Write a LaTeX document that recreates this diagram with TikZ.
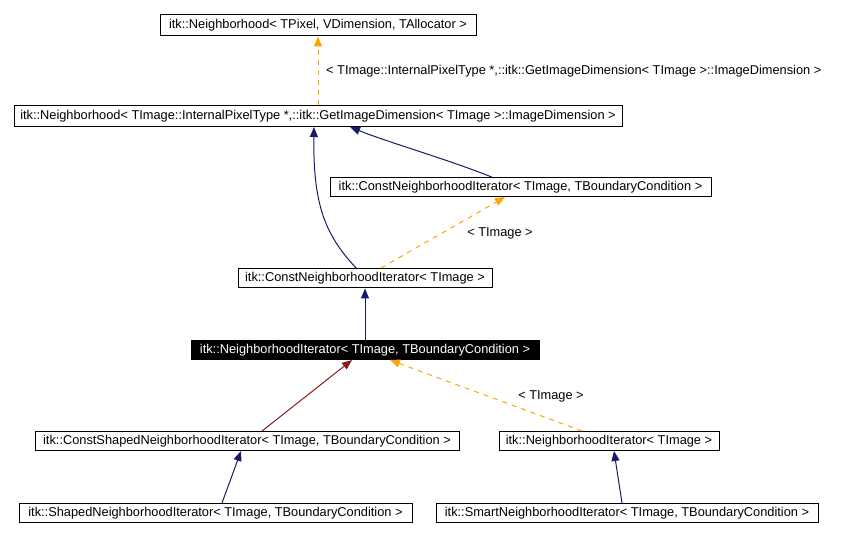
\documentclass[tikz,border=0pt]{standalone}
\usepackage{fontspec}
\setmainfont{Liberation Sans}
\usetikzlibrary{arrows.meta}
\definecolor{navyc}{HTML}{191970}
\definecolor{redc}{HTML}{8B1A1A}
\definecolor{orangec}{HTML}{FFA500}
\tikzset{
  cls/.style={draw=black, line width=1pt, inner sep=0pt, font=\fontsize{12.8}{14}\selectfont, text=black, anchor=center},
  clsdark/.style={cls, fill=black, text=white},
  inh/.style={draw=navyc, line width=1pt, -{Triangle[length=10pt,width=8pt]}},
  priv/.style={draw=redc, line width=1pt, -{Triangle[length=10pt,width=8pt]}},
  tmpl/.style={draw=orangec, line width=1pt, dash pattern=on 5pt off 5pt, -{Triangle[length=10pt,width=8pt]}},
  lbl/.style={font=\fontsize{12.8}{14}\selectfont, inner sep=0pt}
}
\begin{document}
\begin{tikzpicture}[x=1pt,y=-1pt]
\useasboundingbox (0,0) rectangle (841,537);
\node[cls, minimum width=316pt, minimum height=21pt] (n1) at (318,25.5) {itk::Neighborhood< TPixel, VDimension, TAllocator >};
\node[cls, minimum width=608pt, minimum height=21pt] (n2) at (318,116.5) {itk::Neighborhood< TImage::InternalPixelType *,::itk::GetImageDimension< TImage >::ImageDimension >};
\node[cls, minimum width=381pt, minimum height=19pt] (n3) at (520.5,187.5) {itk::ConstNeighborhoodIterator< TImage, TBoundaryCondition >};
\node[cls, minimum width=254pt, minimum height=19pt] (n4) at (365,278.5) {itk::ConstNeighborhoodIterator< TImage >};
\node[clsdark, minimum width=348pt, minimum height=19pt] (n5) at (365,350.5) {itk::NeighborhoodIterator< TImage, TBoundaryCondition >};
\node[cls, minimum width=424pt, minimum height=19pt] (n6) at (247,441) {itk::ConstShapedNeighborhoodIterator< TImage, TBoundaryCondition >};
\node[cls, minimum width=220pt, minimum height=19pt] (n7) at (609,441) {itk::NeighborhoodIterator< TImage >};
\node[cls, minimum width=393pt, minimum height=19pt] (n8) at (215.5,513) {itk::ShapedNeighborhoodIterator< TImage, TBoundaryCondition >};
\node[cls, minimum width=382pt, minimum height=19pt] (n9) at (627,513) {itk::SmartNeighborhoodIterator< TImage, TBoundaryCondition >};

% edges
\draw[tmpl] (n2.north) -- (n1.south);
\node[lbl, anchor=west] (l1) at (326,71) {< TImage::InternalPixelType *,::itk::GetImageDimension< TImage >::ImageDimension >};

\coordinate (c32s) at (494,178);
\coordinate (c32e) at (350,127);
\draw[inh] (c32s) .. controls (450,160) and (390,143) .. (c32e);

\coordinate (c42s) at (357,269);
\coordinate (c42e) at (314,127);
\draw[inh] (c42s) .. controls (325,235) and (313,205) .. (c42e);

\coordinate (c43s) at (381,268);
\coordinate (c43e) at (505,197);
\draw[tmpl] (c43s) -- (c43e);
\node[lbl] (l2) at (500,233.5) {< TImage >};

\draw[inh] (n5.north) -- (n4.south);

\coordinate (c65s) at (262,431);
\coordinate (c65e) at (352,360);
\draw[priv] (c65s) -- (c65e);

\coordinate (c75s) at (582,431);
\coordinate (c75e) at (390,360);
\draw[tmpl] (c75s) -- (c75e);
\node[lbl] (l3) at (551,396.5) {< TImage >};

\coordinate (c86s) at (222,503);
\coordinate (c86e) at (241,451);
\draw[inh] (c86s) -- (c86e);

\coordinate (c97s) at (622,503);
\coordinate (c97e) at (614,451);
\draw[inh] (c97s) -- (c97e);
\end{tikzpicture}
\end{document}
